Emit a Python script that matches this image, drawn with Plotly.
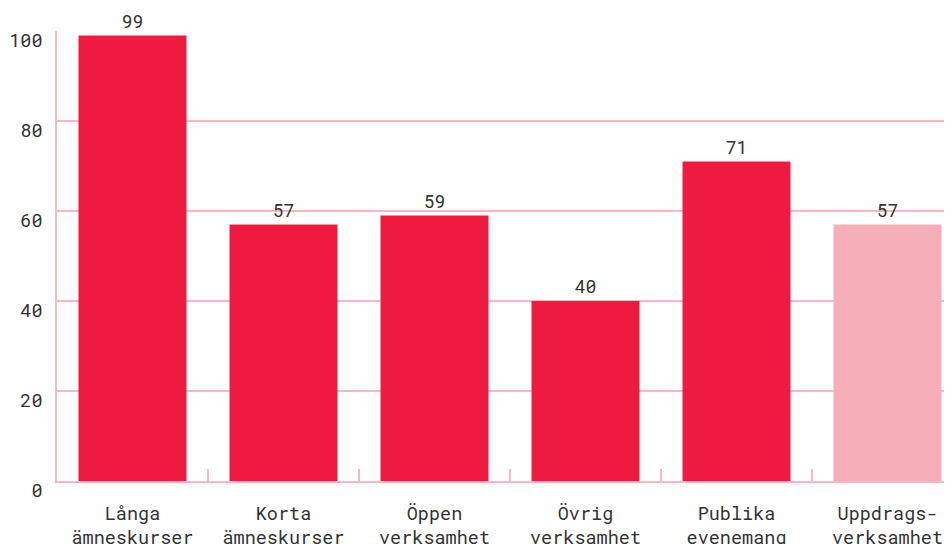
import plotly.graph_objects as go

categories = ["Långa<br>ämneskurser", "Korta<br>ämneskurser", "Öppen<br>verksamhet",
              "Övrig<br>verksamhet", "Publika<br>evenemang", "Uppdrags-<br>verksamhet"]
values = [99, 57, 59, 40, 71, 57]
colors = ["#ee1a3f", "#ee1a3f", "#ee1a3f", "#ee1a3f", "#ee1a3f", "#f6aeb9"]
y_ticks = [0, 20, 40, 60, 80, 100]

FONT = "Roboto Mono, DejaVu Sans Mono, monospace"
PINK = "#f8b8c3"
TXT = "#333333"

fig = go.Figure(go.Bar(
    x=categories, y=values, marker_color=colors, marker_line_width=0,
    width=0.715, text=[str(v) for v in values], textposition="outside",
    textfont=dict(family=FONT, size=18, color=TXT), cliponaxis=False,
    hoverinfo="skip",
))

fig.update_layout(
    width=952, height=544,
    margin=dict(l=49, r=0, t=23, b=71),
    plot_bgcolor="white", paper_bgcolor="white",
    showlegend=False,
    font=dict(family=FONT, size=18, color=TXT),
)
fig.update_xaxes(
    range=[-0.5, 5.48], showgrid=False, automargin=False,
    showline=True, linecolor=PINK, linewidth=2,
    ticks="inside", tickson="boundaries", ticklen=12, tickcolor=PINK, tickwidth=1.5,
    tickfont=dict(family=FONT, size=18.5, color=TXT),
    ticklabelstandoff=15,
)
fig.update_yaxes(
    range=[0, 100], tickvals=y_ticks, automargin=False,
    showgrid=True, gridcolor=PINK, gridwidth=1.5,
    showline=True, linecolor=PINK, linewidth=1.5,
    zeroline=False, ticks="",
    ticklabelposition="outside bottom",
    tickfont=dict(family=FONT, size=18.5, color=TXT),
    ticklabelstandoff=9, ticklabelshift=-3,
)
fig.write_html("out.html")
